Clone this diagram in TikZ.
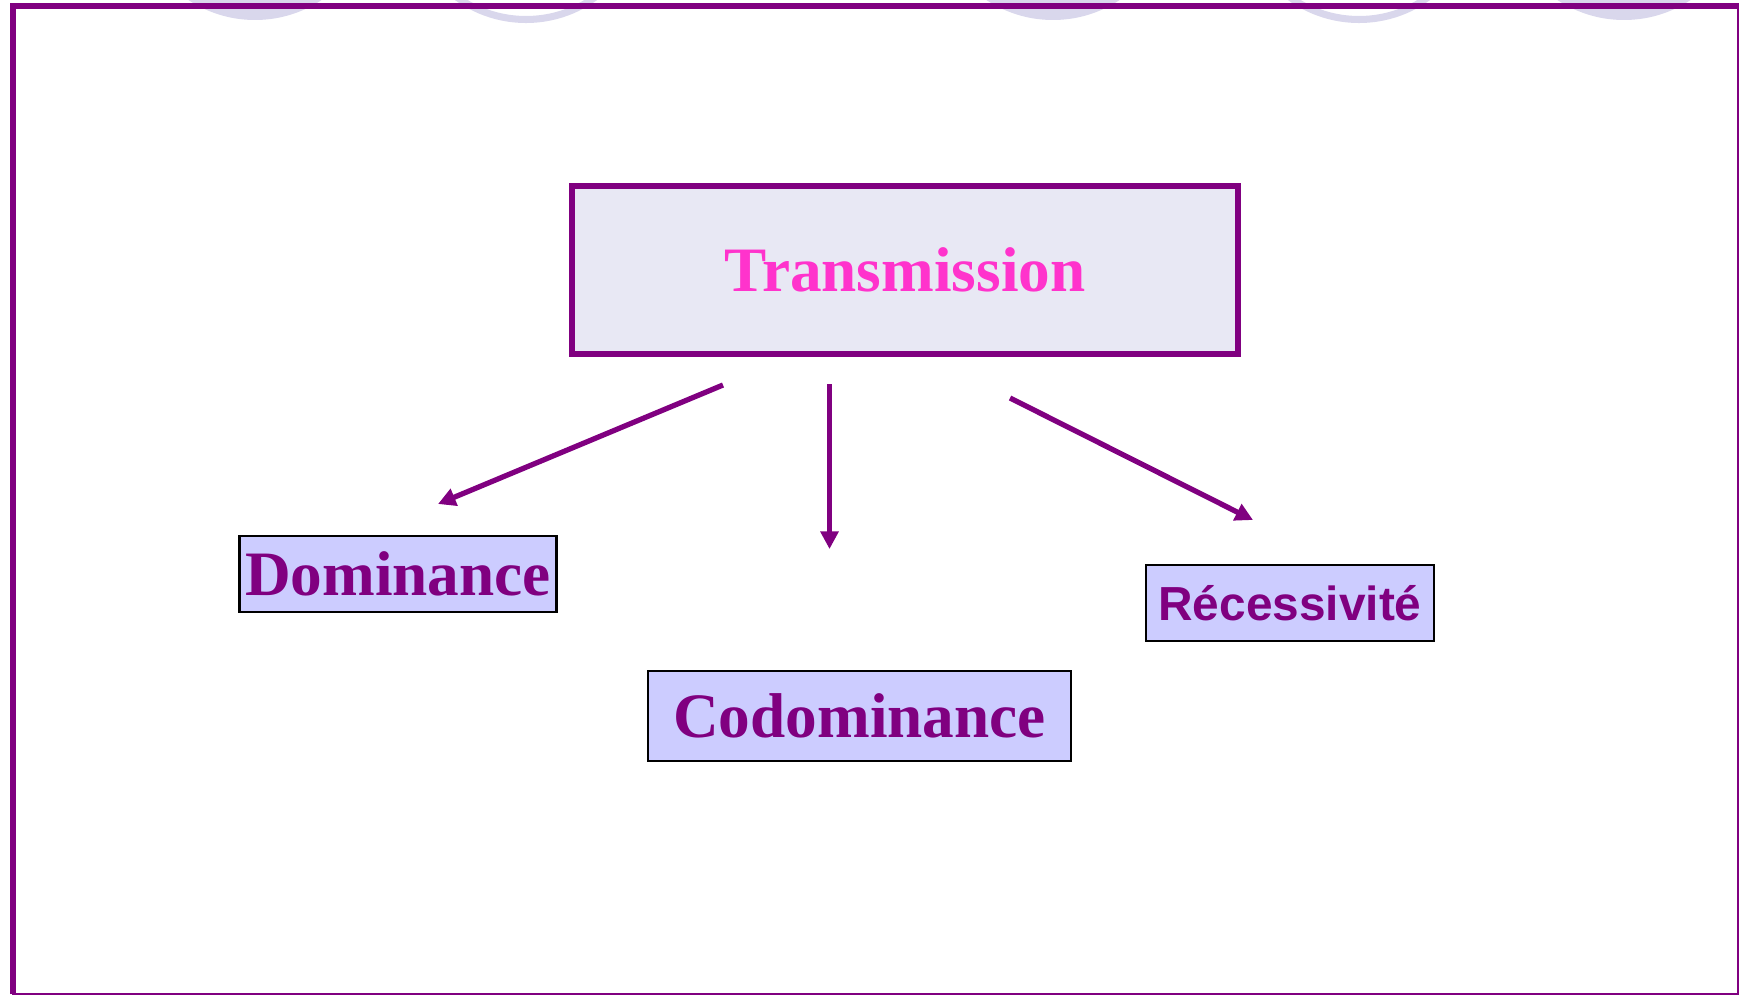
\documentclass[tikz,border=0pt]{standalone}
\usepackage{fontspec}
\setmainfont{Liberation Serif}
\setsansfont{Liberation Sans}
\usepackage{tikz}
\usetikzlibrary{arrows.meta,calc}

\definecolor{violet}{HTML}{800080}
\definecolor{rose}{HTML}{FF33CC}
\definecolor{pale}{HTML}{E8E8F4}
\definecolor{mauve}{HTML}{CCCCFF}
\definecolor{halo}{HTML}{D9D7EC}

\tikzset{
  head/.style={draw=violet,line width=1.6pt,fill=pale,text=rose,inner sep=0pt,
    minimum width=6.66cm,minimum height=1.68cm},
  leaf/.style={draw=black,line width=0.6pt,fill=mauve,text=violet,inner sep=0pt},
  link/.style={draw=violet,line width=1.5pt,-{Triangle[length=5pt,width=5pt]}}
}

\begin{document}
\begin{tikzpicture}
  \useasboundingbox (0,0) rectangle (17.39,9.95);
  \begin{scope}
    \clip (0,0) rectangle (17.39,9.95);
    \fill[halo] (2.55,10.96) circle (1.21);
    \fill[halo] (10.53,10.96) circle (1.21);
    \fill[halo] (16.24,10.96) circle (1.21);
    \draw[halo,line width=2pt] (5.26,10.935) circle (1.18);
    \draw[halo,line width=2pt] (13.59,10.935) circle (1.18);
  \end{scope}

  \draw[violet,line width=0.6pt] (0.13,0.01) rectangle (17.38,9.89);
  \draw[violet,line width=1.5pt] (0.13,0.01) -- (0.13,9.89) -- (17.39,9.89);

  \node[head,font=\fontsize{18}{20}\selectfont\bfseries]
    (trans) at (9.05,7.25) {Transmission};
  \node[leaf,minimum width=3.17cm,minimum height=0.755cm,
    font=\fontsize{18}{20}\selectfont\bfseries] (dom) at (3.98,4.21) {Dominance};
  \node[leaf,minimum width=4.236cm,minimum height=0.90cm,
    font=\fontsize{18}{20}\selectfont\bfseries] (codom) at (8.595,2.79) {Codominance};
  \node[leaf,minimum width=2.873cm,minimum height=0.754cm,
    font=\sffamily\fontsize{13.6}{16}\selectfont\bfseries] (rec) at (12.90,3.92) {Récessivité};

  \coordinate (l0) at (7.23,6.10);
  \coordinate (l1) at (4.38,4.91);
  \coordinate (m0) at (8.295,6.11);
  \coordinate (m1) at (8.295,4.46);
  \coordinate (r0) at (10.10,5.97);
  \coordinate (r1) at (12.53,4.75);

\draw[link] (l0) -- (l1);
\draw[link,line width=1.2pt] (m0) -- (m1);
\draw[link] (r0) -- (r1);
\end{tikzpicture}
\end{document}
